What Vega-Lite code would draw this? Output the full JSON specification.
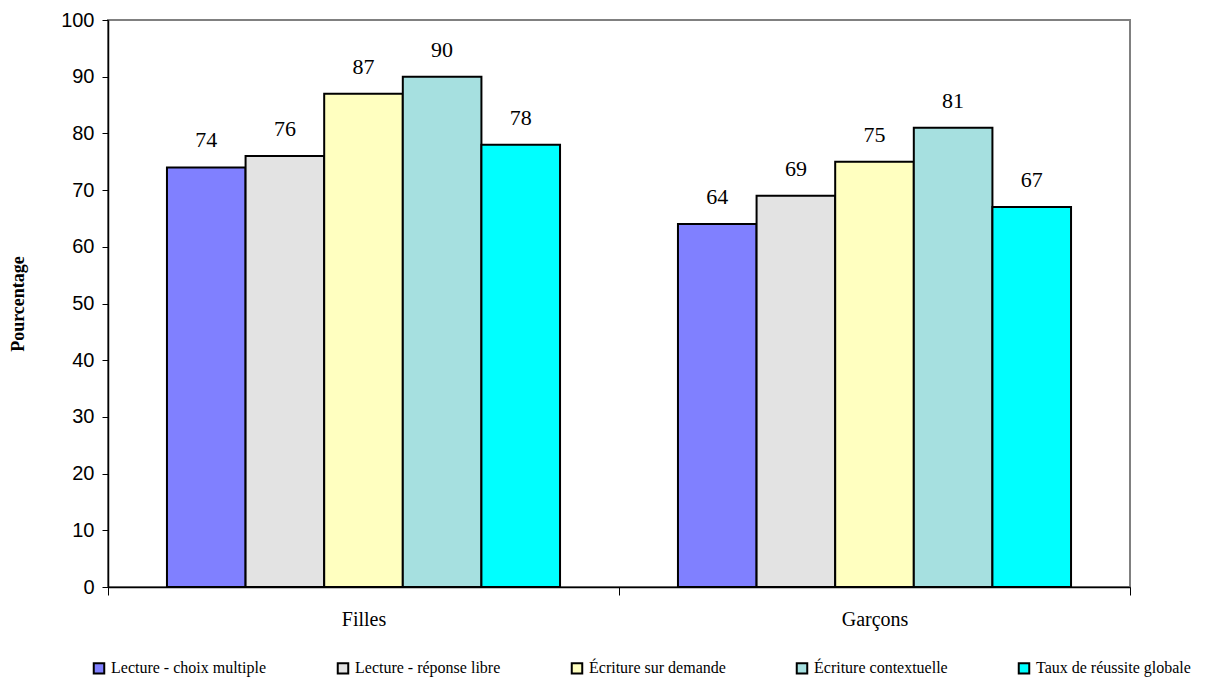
{
  "$schema": "https://vega.github.io/schema/vega-lite/v6.json",
  "autosize": {"type": "none"},
  "width": 1022,
  "height": 567,
  "padding": {"left": 108, "top": 20, "right": 77, "bottom": 96},
  "background": "white",
  "title": {
    "text": "Pourcentage de réussite selon le sexe et la composante",
    "font": "Liberation Serif",
    "fontSize": 20,
    "fontWeight": "bold",
    "color": "black",
    "anchor": "middle",
    "baseline": "alphabetic",
    "offset": 18
  },
  "data": {
    "values": [
      {"groupe": "Filles", "composante": "Lecture - choix multiple", "pct": 74},
      {"groupe": "Filles", "composante": "Lecture - réponse libre", "pct": 76},
      {"groupe": "Filles", "composante": "Écriture sur demande", "pct": 87},
      {"groupe": "Filles", "composante": "Écriture contextuelle", "pct": 90},
      {"groupe": "Filles", "composante": "Taux de réussite globale", "pct": 78},
      {"groupe": "Garçons", "composante": "Lecture - choix multiple", "pct": 64},
      {"groupe": "Garçons", "composante": "Lecture - réponse libre", "pct": 69},
      {"groupe": "Garçons", "composante": "Écriture sur demande", "pct": 75},
      {"groupe": "Garçons", "composante": "Écriture contextuelle", "pct": 81},
      {"groupe": "Garçons", "composante": "Taux de réussite globale", "pct": 67}
    ]
  },
  "encoding": {
    "x": {
      "field": "groupe",
      "type": "nominal",
      "sort": ["Filles", "Garçons"],
      "scale": {"paddingInner": 0, "paddingOuter": 0},
      "axis": {
        "title": null,
        "labelAngle": 0,
        "labelFont": "Liberation Serif",
        "labelFontSize": 20,
        "labelColor": "black",
        "labelPadding": 14,
        "tickBand": "extent",
        "tickSize": 8,
        "tickColor": "black",
        "domainColor": "black",
        "domainWidth": 1.5
      }
    },
    "xOffset": {
      "field": "composante",
      "type": "nominal",
      "sort": ["Lecture - choix multiple", "Lecture - réponse libre", "Écriture sur demande", "Écriture contextuelle", "Taux de réussite globale"],
      "scale": {"paddingInner": 0, "paddingOuter": 0.75}
    },
    "y": {
      "field": "pct",
      "type": "quantitative",
      "scale": {"domain": [0, 100]},
      "axis": {
        "title": "Pourcentage",
        "titleFont": "Liberation Serif",
        "titleFontSize": 18,
        "titleFontWeight": "bold",
        "titleColor": "black",
        "titlePadding": 33,
        "tickCount": 10,
        "grid": false,
        "labelFont": "Liberation Sans",
        "labelFontSize": 20,
        "labelColor": "black",
        "labelPadding": 8,
        "tickSize": 6,
        "tickColor": "black",
        "domainColor": "black",
        "domainWidth": 1.5
      }
    }
  },
  "layer": [
    {
      "mark": {"type": "bar", "stroke": "black", "strokeWidth": 2},
      "encoding": {
        "color": {
          "field": "composante",
          "type": "nominal",
          "sort": ["Lecture - choix multiple", "Lecture - réponse libre", "Écriture sur demande", "Écriture contextuelle", "Taux de réussite globale"],
          "scale": {
            "domain": ["Lecture - choix multiple", "Lecture - réponse libre", "Écriture sur demande", "Écriture contextuelle", "Taux de réussite globale"],
            "range": ["#8080FF", "#E3E3E3", "#FFFFC0", "#A6E0E0", "#00FFFF"]
          },
          "legend": {
            "orient": "none",
            "legendX": -17,
            "legendY": 640,
            "direction": "horizontal",
            "columns": 5,
            "title": null,
            "symbolType": "square",
            "symbolSize": 110,
            "symbolStrokeColor": "black",
            "symbolStrokeWidth": 2,
            "symbolOpacity": 1,
            "labelFont": "Liberation Serif",
            "labelFontSize": 16,
            "labelColor": "black",
            "labelOffset": 4,
            "columnPadding": 66,
            "labelLimit": 300
          }
        }
      }
    },
    {
      "mark": {"type": "text", "font": "Liberation Serif", "fontSize": 22, "color": "black", "baseline": "alphabetic", "dy": -20},
      "encoding": {
        "text": {"field": "pct", "type": "quantitative"}
      }
    }
  ],
  "config": {
    "view": {"stroke": "#808080", "strokeWidth": 2}
  }
}
